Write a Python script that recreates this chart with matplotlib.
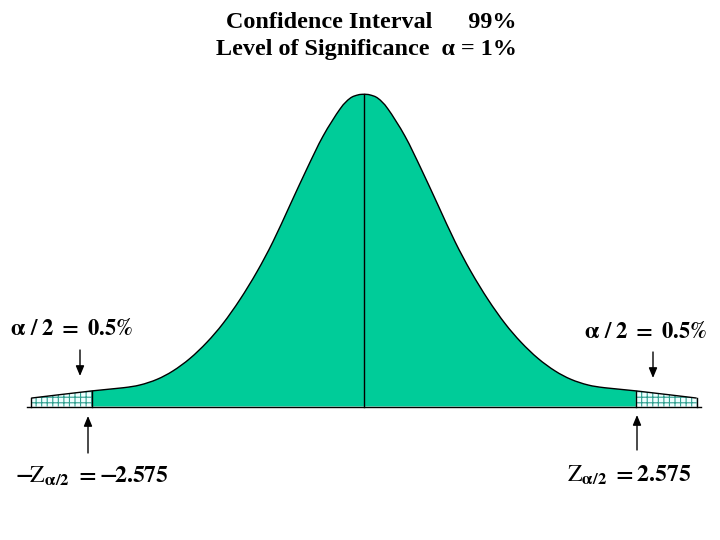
import matplotlib
matplotlib.use('Agg')
import matplotlib.pyplot as plt
from matplotlib.path import Path
from matplotlib.patches import PathPatch
import numpy as np

plt.rcParams['font.family'] = ['Liberation Serif', 'DejaVu Serif']
plt.rcParams['mathtext.fontset'] = 'stix'
plt.rcParams['mathtext.default'] = 'bf'
plt.rcParams['hatch.linewidth'] = 0.8

# ---- data: left half of the (stylised) bell curve ----
z_left = [-3.15, -2.575, -2.282, -2.121, -1.960, -1.809, -1.648, -1.487, -1.335,
          -1.174, -1.013, -0.862, -0.701, -0.540, -0.388, -0.227, -0.133, -0.057, 0.0]
h_left = [0.027, 0.050, 0.060, 0.069, 0.087, 0.114, 0.154, 0.206, 0.266,
          0.343, 0.432, 0.528, 0.645, 0.762, 0.866, 0.953, 0.987, 0.998, 1.0]
z_crit = 2.575
axis_extent = 3.19

title_lines = ["Confidence Interval      99%", "Level of Significance  \u03b1 = 1%"]
tail_label = r"$\alpha\ /\ 2\ =\ 0.5\%$"
left_crit_label = r"$-\!\mathrm{Z}_{\alpha/2}\ = {-}\!2.575$"
right_crit_label = r"$\mathrm{Z}_{\alpha/2}\ = 2.575$"

# full symmetric curve
z = np.array(z_left + [-v for v in z_left[::-1][1:]])
h = np.array(h_left + h_left[::-1][1:])
n = len(z)
i_lc = 1            # index of -z_crit
i_rc = n - 2        # index of +z_crit

W, H = 720, 540
fig = plt.figure(figsize=(W / 100, H / 100), dpi=100)
ax = fig.add_axes([0, 0, 1, 1])
ax.set_xlim(-364 / 105.6, 356 / 105.6)
ax.set_ylim(-133.5 / 312.2, 406.5 / 312.2)
ax.axis('off')

P = np.column_stack([z, h])


def smooth(i0, i1):
    """Smooth (Catmull-Rom drawn as Bezier) line through the points i0..i1."""
    verts = [P[i0]]
    codes = [Path.MOVETO]
    for i in range(i0, i1):
        p0 = P[max(i - 1, 0)]
        p1 = P[i]
        p2 = P[i + 1]
        p3 = P[min(i + 2, n - 1)]
        verts += [p1 + (p2 - p0) / 6, p2 - (p3 - p1) / 6, p2]
        codes += [Path.CURVE4] * 3
    return verts, codes


def region(i0, i1):
    verts, codes = smooth(i0, i1)
    verts = verts + [(P[i1][0], 0), (P[i0][0], 0), (P[i0][0], 0)]
    codes = codes + [Path.LINETO, Path.LINETO, Path.CLOSEPOLY]
    return Path(verts, codes)


green = '#00CC99'
ax.add_patch(PathPatch(region(i_lc, i_rc), facecolor=green, edgecolor='none', lw=0))
for a, b in ((0, i_lc), (i_rc, n - 1)):
    ax.add_patch(PathPatch(region(a, b), facecolor='#EFFFFF', edgecolor='#2E9E8E',
                           hatch='+++', lw=0))

# outlines
v, c = smooth(0, n - 1)
ax.add_patch(PathPatch(Path(v, c), fill=False, edgecolor='black', lw=1.0))
ax.plot([-axis_extent, axis_extent], [0, 0], color='black', lw=1.0)
for i in (0, i_lc, n // 2, i_rc, n - 1):
    ax.plot([z[i], z[i]], [0, h[i]], color='black', lw=1.0)


def fy(y):
    return H - y


# titles
fig.text(517 / W, fy(28) / H, title_lines[0], ha='right', va='baseline',
         fontsize=17.4, fontweight='bold')
fig.text(517 / W, fy(55) / H, title_lines[1], ha='right', va='baseline',
         fontsize=17.4, fontweight='bold')

# tail labels
fig.text(10 / W, fy(335) / H, tail_label, ha='left', va='baseline', fontsize=16.3)
fig.text(707 / W, fy(338) / H, tail_label, ha='right', va='baseline', fontsize=16.3)
fig.text(15 / W, fy(483) / H, left_crit_label, ha='left', va='baseline', fontsize=17)
fig.text(567 / W, fy(482) / H, right_crit_label, ha='left', va='baseline', fontsize=17)

arrow = dict(arrowstyle='-|>,head_length=0.6,head_width=0.25', color='black', lw=1.0,
             shrinkA=0, shrinkB=0)
for (x, y0, y1) in ((80, 350, 376), (653, 352, 378), (88, 453, 416), (637, 450, 415)):
    ax.annotate('', xy=(x, fy(y1)), xycoords='figure pixels',
                xytext=(x, fy(y0)), textcoords='figure pixels', arrowprops=arrow)

fig.savefig('out.png', dpi=100)
